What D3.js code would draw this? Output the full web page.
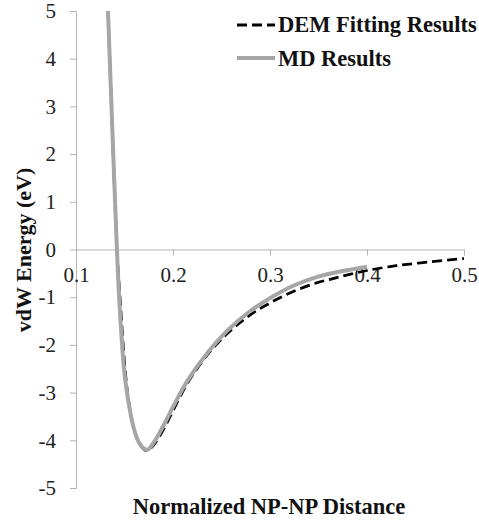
<!DOCTYPE html>
<html>
<head>
<meta charset="utf-8">
<script src="https://cdn.jsdelivr.net/npm/d3@7"></script>
<style>
  body { margin: 0; background: #fff; }
  svg { display: block; }
</style>
</head>
<body>
<div id="chart"></div>
<script>
// distances (normalized) and vdW energies (eV)
const mdX = [0.133, 0.1375, 0.142, 0.145, 0.150, 0.155, 0.159, 0.165, 0.173, 0.180, 0.190, 0.200, 0.215, 0.235, 0.256, 0.279, 0.300, 0.324, 0.348, 0.375, 0.400];
const mdY = [5.0, 2.5, 0.1, -1.2, -2.6, -3.3, -3.7, -4.05, -4.2, -4.05, -3.7, -3.3, -2.75, -2.18, -1.70, -1.30, -1.02, -0.76, -0.58, -0.45, -0.36];

const demX = [0.133, 0.1375, 0.142, 0.146, 0.151, 0.156, 0.162, 0.168, 0.173, 0.180, 0.190, 0.200, 0.215, 0.235, 0.256, 0.279, 0.300, 0.324, 0.348, 0.365, 0.382, 0.400, 0.430, 0.465, 0.500];
const demY = [5.0, 2.5, 0.1, -1.2, -2.6, -3.4, -3.9, -4.15, -4.22, -4.1, -3.78, -3.38, -2.8, -2.22, -1.76, -1.38, -1.12, -0.88, -0.7, -0.61, -0.52, -0.44, -0.34, -0.26, -0.19];

const xTicks = [0.1, 0.2, 0.3, 0.4, 0.5];
const yTicks = [5, 4, 3, 2, 1, 0, -1, -2, -3, -4, -5];
const seriesNames = ["DEM Fitting Results", "MD Results"];

const width = 479, height = 520;
const margin = { top: 11, right: 15, bottom: 32, left: 76 };
const serif = "'Liberation Serif', 'Times New Roman', serif";

const svg = d3.select("#chart").append("svg")
  .attr("width", width)
  .attr("height", height)
  .style("font-family", serif);

const x = d3.scaleLinear()
  .domain([0.1, 0.5])
  .range([margin.left, width - margin.right]);

const y = d3.scaleLinear()
  .domain([-5, 5])
  .range([height - margin.bottom, margin.top]);

const axisColor = "#b3b3b3";
const fmtY = d => String(d);          // plain hyphen minus, like the original
const fmtX = d => d.toFixed(1);

// y axis
const yAxis = svg.append("g")
  .attr("transform", `translate(${margin.left},0)`)
  .call(d3.axisLeft(y).tickValues(yTicks).tickSize(6).tickPadding(14).tickFormat(fmtY));
yAxis.select(".domain").attr("stroke", axisColor);
yAxis.selectAll(".tick line").attr("stroke", axisColor);
yAxis.selectAll("text")
  .style("font-family", serif)
  .style("font-size", "21px")
  .style("fill", "#222");

// x axis at y = 0
const xAxis = svg.append("g")
  .attr("transform", `translate(0,${y(0)})`)
  .call(d3.axisBottom(x).tickValues(xTicks).tickSize(6).tickPadding(12).tickFormat(fmtX));
xAxis.select(".domain").attr("stroke", axisColor);
xAxis.selectAll(".tick line").attr("stroke", axisColor);
xAxis.selectAll("text")
  .style("font-family", serif)
  .style("font-size", "21px")
  .style("fill", "#222");

const line = d3.line()
  .x(d => x(d[0]))
  .y(d => y(d[1]))
  .curve(d3.curveCatmullRom.alpha(0.5));

const mdData = mdX.map((v, i) => [v, mdY[i]]);
const demData = demX.map((v, i) => [v, demY[i]]);

svg.append("path")
  .datum(demData)
  .attr("fill", "none")
  .attr("stroke", "#000")
  .attr("stroke-width", 2.75)
  .attr("stroke-dasharray", "10,5")
  .attr("d", line);

svg.append("path")
  .datum(mdData)
  .attr("fill", "none")
  .attr("stroke", "#a6a6a6")
  .attr("stroke-width", 4)
  .attr("stroke-linejoin", "round")
  .attr("d", line);

// legend
const legend = svg.append("g");
legend.append("line")
  .attr("x1", 237).attr("x2", 275)
  .attr("y1", 25).attr("y2", 25)
  .attr("stroke", "#000")
  .attr("stroke-width", 3)
  .attr("stroke-dasharray", "10,5");
legend.append("line")
  .attr("x1", 237).attr("x2", 275)
  .attr("y1", 58).attr("y2", 58)
  .attr("stroke", "#a6a6a6")
  .attr("stroke-width", 4);
legend.selectAll(".label")
  .data(seriesNames)
  .enter()
  .append("text")
  .attr("x", 278)
  .attr("y", (d, i) => 32 + i * 34)
  .style("font-size", "22.5px")
  .style("font-weight", "bold")
  .style("fill", "#111")
  .text(d => d);

// axis titles
svg.append("text")
  .attr("transform", `translate(31,250) rotate(-90)`)
  .attr("text-anchor", "middle")
  .style("font-size", "22px")
  .style("font-weight", "bold")
  .style("fill", "#111")
  .text("vdW Energy (eV)");

svg.append("text")
  .attr("x", 269)
  .attr("y", 514)
  .attr("text-anchor", "middle")
  .style("font-size", "22.5px")
  .style("font-weight", "bold")
  .style("fill", "#111")
  .text("Normalized NP-NP Distance");
</script>
</body>
</html>
